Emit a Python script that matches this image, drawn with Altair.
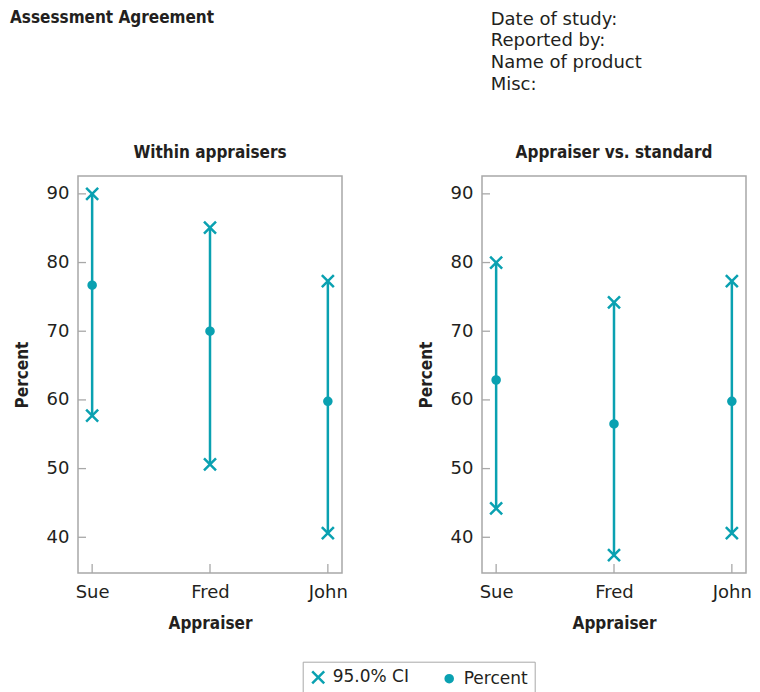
import altair as alt
import pandas as pd

# ---- data ----
appraisers = ["Sue", "Fred", "John"]
within_percent = [76.7, 70.0, 59.8]
within_lower = [57.7, 50.6, 40.6]
within_upper = [90.0, 85.1, 77.3]
standard_percent = [62.9, 56.5, 59.8]
standard_lower = [44.2, 37.4, 40.6]
standard_upper = [80.0, 74.2, 77.3]
y_ticks = [40, 50, 60, 70, 80, 90]
panel_titles = ["Within appraisers", "Appraiser vs. standard"]
header_title = ["Assessment Agreement"]
header_lines = ["Date of study:", "Reported by:", "Name of product", "Misc:"]
legend_labels = ["95.0% CI", "Percent"]

# ---- styling ----
W, H = 264, 397
LEFT, TOP = 70, 168          # page offset of the first panel's plot area (minus 8px margin)
SVG_W, SVG_H = 744, 676
CYAN = "#0aa1b1"
FRAME = "#a8a8a8"
TEXT = "#231f20"
NARROW = "DejaVu Sans Condensed, Liberation Sans Narrow, sans-serif"
REG = "DejaVu Sans, sans-serif"
BOLD_SIZE = 17
CROSS = "M-1,-1L1,1M1,-1L-1,1"

xs = alt.Scale(type="point", padding=0.12)
ys = alt.Scale(domain=[34.8, 92.6], nice=False, zero=False)


def x_axis():
    return alt.Axis(title="Appraiser", ticks=False, domain=False, grid=False,
                    labelAngle=0, labelPadding=10, titlePadding=14)


def y_axis():
    return alt.Axis(title="Percent", values=y_ticks, ticks=False, domain=False,
                    grid=False, labelPadding=9, titlePadding=15)


def legend():
    return alt.Legend(title=None, orient="none", legendX=224.7, legendY=485.7,
                      direction="horizontal", strokeColor=FRAME, fillColor="white",
                      padding=7, labelFont=REG, labelFontSize=17, labelColor=TEXT,
                      symbolStrokeWidth=2.5, symbolOpacity=1, columnPadding=30, labelOffset=6)


def series_scale(rng):
    return alt.Scale(domain=legend_labels, range=rng)


def panel(title, pct, lo, hi, extra=None):
    ci = pd.DataFrame({"Appraiser": appraisers, "lower": lo, "upper": hi})
    pts = pd.DataFrame({
        "Appraiser": appraisers * 3,
        "value": list(lo) + list(hi) + list(pct),
        "series": [legend_labels[0]] * 6 + [legend_labels[1]] * 3,
    })
    ticks_y = pd.DataFrame({"tick": y_ticks})
    ticks_x = pd.DataFrame({"Appraiser": appraisers})

    X = alt.X("Appraiser:N", sort=appraisers, scale=xs, axis=x_axis())

    ytick_layer = alt.Chart(ticks_y).mark_rule(color=FRAME, strokeWidth=1.3).encode(
        y=alt.Y("tick:Q", scale=ys, axis=y_axis()),
        x=alt.value(0), x2=alt.value(8))
    xtick_layer = alt.Chart(ticks_x).mark_rule(color=FRAME, strokeWidth=1.3).encode(
        x=X, y=alt.value(H), y2=alt.value(H - 9))
    rules = alt.Chart(ci).mark_rule(color=CYAN, strokeWidth=2.5).encode(
        x=X, y=alt.Y("lower:Q", scale=ys, axis=y_axis()), y2="upper:Q")
    points = alt.Chart(pts).mark_point(filled=True, strokeWidth=2.5, opacity=1).encode(
        x=X,
        y=alt.Y("value:Q", scale=ys, axis=y_axis()),
        shape=alt.Shape("series:N", scale=series_scale([CROSS, "circle"]), legend=legend()),
        size=alt.Size("series:N", scale=series_scale([144, 50]), legend=legend()),
        fill=alt.Fill("series:N", scale=series_scale([CYAN, CYAN]), legend=legend()),
        stroke=alt.Stroke("series:N", scale=series_scale([CYAN, CYAN]), legend=legend()),
    )
    title_mark = alt.Chart(pd.DataFrame({"t": [title]})).mark_text(
        align="center", baseline="alphabetic", font=NARROW, fontSize=BOLD_SIZE,
        fontWeight="bold", color=TEXT).encode(text="t:N", x=alt.value(W / 2), y=alt.value(-18))
    layers = [ytick_layer, xtick_layer, rules, points, title_mark]
    if extra:
        layers += extra
    return alt.layer(*layers).properties(width=W, height=H)


title_layer = alt.Chart(pd.DataFrame({"t": header_title})).mark_text(
    align="left", baseline="alphabetic", font=NARROW, fontSize=BOLD_SIZE, fontWeight="bold",
    color=TEXT).encode(text="t:N", x=alt.value(-68), y=alt.value(-153))

info_layer = alt.Chart(pd.DataFrame({"t": ["\n".join(header_lines)]})).mark_text(
    align="left", baseline="alphabetic", font=REG, fontSize=18, color=TEXT,
    lineBreak="\n", lineHeight=21.8).encode(text="t:N", x=alt.value(412.7), y=alt.value(-151.5))

left = panel(panel_titles[0], within_percent, within_lower, within_upper,
             extra=[title_layer, info_layer])
right = panel(panel_titles[1], standard_percent, standard_lower, standard_upper)

chart = alt.hconcat(left, right, spacing=140, bounds="flush").properties(
    autosize=alt.AutoSizeParams(type="none"),
    padding={"left": LEFT, "top": TOP, "right": SVG_W - LEFT, "bottom": SVG_H - TOP},
).resolve_scale(
    shape="shared", size="shared", fill="shared", stroke="shared"
).resolve_legend(
    shape="shared", size="shared", fill="shared", stroke="shared"
).configure_view(
    stroke=FRAME, strokeWidth=1.5
).configure_axis(
    labelFont=REG, labelFontSize=18, labelColor=TEXT,
    titleFont=NARROW, titleFontSize=BOLD_SIZE, titleFontWeight="bold", titleColor=TEXT,
)

chart.save("out.html", embed_options={"renderer": "svg", "actions": False})
